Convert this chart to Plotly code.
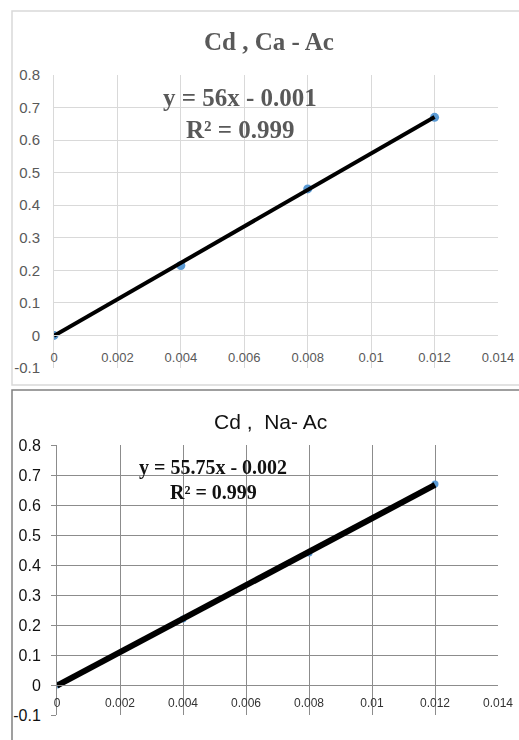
import numpy as np
import plotly.graph_objects as go

# ---- data ----
conc = [0, 0.004, 0.008, 0.012]
abs_ca = [0.0, 0.215, 0.45, 0.67]
abs_na = [0.0, 0.22, 0.44, 0.67]
slope_ca, icpt_ca = 56, -0.001
slope_na, icpt_na = 55.75, -0.002
eq_ca = ["y = 56x - 0.001", "R² = 0.999"]
eq_na = ["y = 55.75x - 0.002", "R² = 0.999"]
title_ca = "Cd , Ca - Ac"
title_na = "Cd ,  Na- Ac"
x_ticks = [0, 0.002, 0.004, 0.006, 0.008, 0.01, 0.012, 0.014]
x_labels = ["0", "0.002", "0.004", "0.006", "0.008", "0.01", "0.012", "0.014"]
y_ticks = [-0.1, 0, 0.1, 0.2, 0.3, 0.4, 0.5, 0.6, 0.7, 0.8]
y_labels = ["-0.1", "0", "0.1", "0.2", "0.3", "0.4", "0.5", "0.6", "0.7", "0.8"]

W, H = 519, 740
def fx(p): return p / W
def fy(p): return 1 - p / H

top_x = [fx(54), fx(498)]
top_y = [fy(368), fy(75)]
bot_x = [fx(57), fx(498)]
bot_y = [fy(715), fy(445)]

def zero_pos(dom):
    return dom[0] + (0 - (-0.1)) / 0.9 * (dom[1] - dom[0])

fig = go.Figure()

fit_x = [conc[0], conc[-1]]
# top chart
fig.add_trace(go.Scatter(x=conc, y=abs_ca, mode="markers",
                         marker=dict(color="#5b9bd5", size=9),
                         xaxis="x", yaxis="y", showlegend=False))
fig.add_trace(go.Scatter(x=fit_x, y=[slope_ca * v + icpt_ca for v in fit_x],
                         mode="lines", line=dict(color="black", width=4),
                         xaxis="x", yaxis="y", showlegend=False))
# bottom chart
fig.add_trace(go.Scatter(x=conc, y=abs_na, mode="markers",
                         marker=dict(color="#5b9bd5", size=7),
                         xaxis="x2", yaxis="y2", showlegend=False))
fig.add_trace(go.Scatter(x=fit_x, y=[slope_na * v + icpt_na for v in fit_x],
                         mode="lines", line=dict(color="black", width=6),
                         xaxis="x2", yaxis="y2", showlegend=False))
# invisible companion on the label axis of the bottom chart
fig.add_trace(go.Scatter(x=conc, y=abs_na, mode="markers", opacity=0,
                         marker=dict(size=1), hoverinfo="skip",
                         xaxis="x2", yaxis="y3", showlegend=False))

top_grid = "#d9d9d9"
bot_grid = "#8c8c8c"
clear = "rgba(0,0,0,0)"

fig.update_layout(
    width=W, height=H, margin=dict(l=0, r=0, t=0, b=0),
    paper_bgcolor="white", plot_bgcolor="white",
    xaxis=dict(domain=top_x, range=[0, 0.014], tickvals=x_ticks, ticktext=x_labels,
               anchor="free", position=zero_pos(top_y), automargin=False,
               showgrid=True, gridcolor=top_grid, gridwidth=1, zeroline=False,
               showline=True, linecolor=top_grid, ticks="",
               ticklabelstandoff=10,
               tickfont=dict(family="Liberation Sans", size=13, color="#595959")),
    yaxis=dict(domain=top_y, range=[-0.1, 0.8], tickvals=y_ticks, ticktext=y_labels,
               anchor="x", automargin=False, showgrid=True, gridcolor=top_grid, gridwidth=1,
               zeroline=False, showline=True, linecolor=top_grid,
               ticks="outside", ticklen=10, tickcolor=clear,
               tickfont=dict(family="Liberation Sans", size=15, color="#595959")),
    xaxis2=dict(domain=bot_x, range=[0, 0.014], tickvals=x_ticks, ticktext=x_labels,
                anchor="free", position=zero_pos(bot_y), automargin=False,
                showgrid=True, gridcolor=bot_grid, gridwidth=1, zeroline=False,
                showline=True, linecolor=bot_grid, ticks="",
                ticklabelstandoff=7,
                tickfont=dict(family="Liberation Sans", size=12, color="#333333")),
    yaxis2=dict(domain=bot_y, range=[-0.1, 0.8], tickvals=y_ticks,
                anchor="x2", automargin=False, showgrid=True, gridcolor=bot_grid, gridwidth=1,
                zeroline=False, showline=True, linecolor=bot_grid,
                ticks="outside", ticklen=5, tickcolor=bot_grid, showticklabels=False),
    yaxis3=dict(overlaying="y2", anchor="x2", range=[-0.1, 0.8], automargin=False,
                tickvals=y_ticks, ticktext=y_labels, showgrid=False, zeroline=False,
                showline=False, ticks="outside", ticklen=12, tickcolor=clear,
                tickfont=dict(family="Liberation Sans", size=16, color="#111111")),
)

# frames
fig.add_shape(type="rect", xref="paper", yref="paper",
              x0=fx(12), x1=1.02, y0=fy(385), y1=fy(11),
              line=dict(color="#d9d9d9", width=1.5), layer="below")
fig.add_shape(type="rect", xref="paper", yref="paper",
              x0=fx(12), x1=1.02, y0=-0.02, y1=fy(390),
              line=dict(color="#808080", width=1.5), layer="below")

# titles
fig.add_annotation(text="<b>" + title_ca + "</b>", xref="paper", yref="paper",
                   x=fx(269), y=fy(42), showarrow=False, xanchor="center", yanchor="middle",
                   font=dict(family="Liberation Serif", size=25, color="#595959"))
fig.add_annotation(text=title_na, xref="paper", yref="paper",
                   x=fx(270), y=fy(421), showarrow=False, xanchor="center", yanchor="middle",
                   font=dict(family="Liberation Sans", size=21, color="#111111"))

# equations
fig.add_annotation(text="<b>" + eq_ca[0] + "</b>", xref="paper", yref="paper",
                   x=fx(240), y=fy(97), showarrow=False, xanchor="center", yanchor="middle",
                   font=dict(family="Liberation Serif", size=25, color="#595959"))
fig.add_annotation(text="<b>" + eq_ca[1] + "</b>", xref="paper", yref="paper",
                   x=fx(240), y=fy(129), showarrow=False, xanchor="center", yanchor="middle",
                   font=dict(family="Liberation Serif", size=25, color="#595959"))
fig.add_annotation(text="<b>" + eq_na[0] + "</b>", xref="paper", yref="paper",
                   x=fx(213), y=fy(467), showarrow=False, xanchor="center", yanchor="middle",
                   font=dict(family="Liberation Serif", size=20, color="#111111"))
fig.add_annotation(text="<b>" + eq_na[1] + "</b>", xref="paper", yref="paper",
                   x=fx(213), y=fy(492), showarrow=False, xanchor="center", yanchor="middle",
                   font=dict(family="Liberation Serif", size=20, color="#111111"))

fig.write_html("out.html", config={"displayModeBar": False},
               post_script="document.body.style.margin='0';document.body.style.overflow='hidden';")
